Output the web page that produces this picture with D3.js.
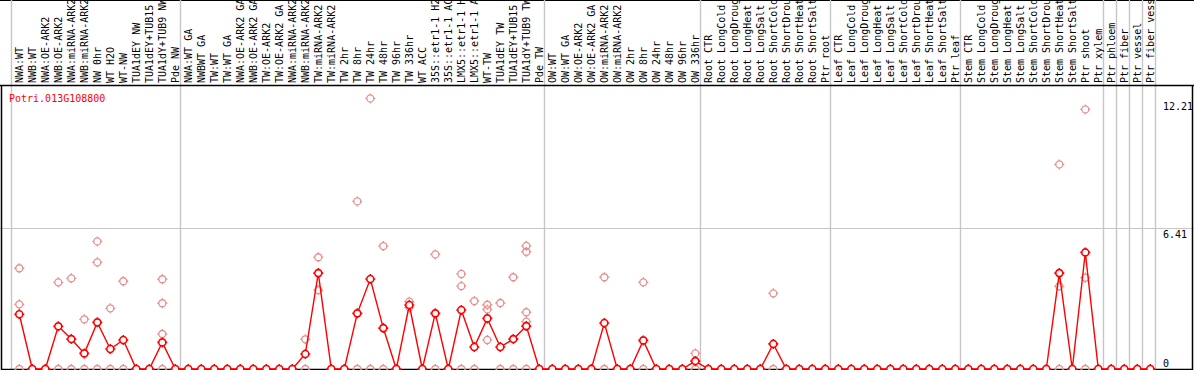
<!DOCTYPE html>
<html lang="en">
	<head>
		<meta charset="utf-8">
		<title>Potri.013G108800 expression</title>

		<script src="https://cdnjs.cloudflare.com/ajax/libs/d3/7.8.5/d3.min.js"></script>

		<style type="text/css">
			html, body {
				margin: 0;
				padding: 0;
				background: white;
			}

			#chart {
				display: block;
				overflow: hidden;
			}

			.sample-label, .tick-label, .gene-label {
				font-family: "DejaVu Sans Mono", monospace;
				font-size: 10px;
			}
		</style>
	</head>
	<body>

		<svg id="chart" width="1194" height="370"></svg>

		<script type="text/javascript">

			//---------------------------------------------
			// data
			//---------------------------------------------

			var gene = "Potri.013G108800";

			var samples = [
				"NWA:WT", "NWB:WT", "NWA:OE-ARK2", "NWB:OE-ARK2", "NWA:miRNA-ARK2", "NWB:miRNA-ARK2",
				"NW 0hr", "WT H2O", "WT-NW", "TUA1dEY NW", "TUA1dEY+TUB15", "TUA1dY+TUB9 NW", "Pde NW",
				"NWA:WT GA", "NWBWT GA", "TW:WT", "TW:WT GA", "NWA:OE-ARK2 GA", "NWB:OE-ARK2 GA",
				"TW:OE-ARK2", "TW:OE-ARK2 GA", "NWA:miRNA-ARK2", "NWB:miRNA-ARK2", "TW:miRNA-ARK2",
				"TW:miRNA-ARK2", "TW 2hr", "TW 8hr", "TW 24hr", "TW 48hr", "TW 96hr", "TW 336hr", "WT ACC",
				"35S::etr1-1 H2O", "35S::etr1-1 ACC", "LMX5::etr1-1 H2O", "LMX5::etr1-1 ACC", "WT-TW",
				"TUA1dEY TW", "TUA1dEY+TUB15", "TUA1dY+TUB9 TW", "Pde TW",
				"OW:WT", "OW:WT GA", "OW:OE-ARK2", "OW:OE-ARK2 GA", "OW:miRNA-ARK2", "OW:miRNA-ARK2",
				"OW 2hr", "OW 8hr", "OW 24hr", "OW 48hr", "OW 96hr", "OW 336hr",
				"Root CTR", "Root LongCold", "Root LongDrought", "Root LongHeat", "Root LongSalt",
				"Root ShortCold", "Root ShortDrought", "Root ShortHeat", "Root ShortSalt", "Ptr root",
				"Leaf CTR", "Leaf LongCold", "Leaf LongDrought", "Leaf LongHeat", "Leaf LongSalt",
				"Leaf ShortCold", "Leaf ShortDrought", "Leaf ShortHeat", "Leaf ShortSalt", "Ptr leaf",
				"Stem CTR", "Stem LongCold", "Stem LongDrought", "Stem LongHeat", "Stem LongSalt",
				"Stem ShortCold", "Stem ShortDrought", "Stem ShortHeat", "Stem ShortSalt", "Ptr shoot",
				"Ptr xylem", "Ptr phloem", "Ptr fiber", "Ptr vessel", "Ptr fiber vessel"
			];

			// mean expression per sample (red line)
			var means = [
				2.49, 0, 0, 1.94, 1.36, 0.71, 2.12, 0.91, 1.32, 0, 0, 1.21, 0,
				0, 0, 0, 0, 0, 0, 0, 0, 0, 0.68, 4.36, 0, 0, 2.53, 4.09, 1.86, 0, 2.91, 0,
				2.53, 0, 2.68, 1.0, 2.3, 1.0, 1.36, 1.95, 0,
				0, 0, 0, 0, 2.09, 0, 0, 1.3, 0, 0, 0, 0.36,
				0, 0, 0, 0, 0, 1.14, 0, 0, 0, 0,
				0, 0, 0, 0, 0, 0, 0, 0, 0, 0,
				0, 0, 0, 0, 0, 0, 0, 4.36, 0, 5.3, 0,
				0, 0, 0, 0
			];

			// single replicate values per sample (pink circles)
			var replicates = [
				[4.58, 2.94, 0], [0], [0], [3.94, 0], [4.12, 0], [2.26, 0], [5.8, 4.85, 0], [2.76, 0],
				[3.99, 0], [0], [0], [4.08, 2.99, 1.59, 0], [0],
				[0], [0], [0], [0], [0], [0], [0], [0], [0], [1.35, 0], [5.08, 3.59], [0], [0],
				[7.62, 0], [12.3, 0], [5.59, 0], [0], [3.06, 2.8], [0], [5.21, 0], [0],
				[4.32, 3.77, 0], [3.09, 0], [2.92, 2.71, 1.32], [3.0, 0], [4.17, 0],
				[5.6, 5.33, 2.58, 2.15, 0], [0],
				[0], [0], [0], [0], [4.17, 0], [0], [0], [3.94, 0], [0], [0], [0], [0.71, 0],
				[0], [0], [0], [0], [0], [3.44, 0], [0], [0], [0], [0],
				[0], [0], [0], [0], [0], [0], [0], [0], [0], [0],
				[0], [0], [0], [0], [0], [0], [0], [9.3, 3.76, 0], [0], [11.8, 4.15, 0], [0],
				[0], [0], [0], [0]
			];

			// first sample of each tissue group
			var group_starts = [0, 13, 41, 53, 63, 73, 84, 85, 86, 87, 88];

			var y_ticks = [0, 6.41, 12.21];
			var y_tick_labels = ["0", "6.41", "12.21"];


			//---------------------------------------------
			// scales
			//---------------------------------------------

			var width  = 1194;
			var height = 370;

			var col_w = 13;
			var plot_left = 12.8;
			var label_bottom = 85;
			var plot_bottom = 369;

			var x = d3.scaleBand()
				.domain(d3.range(samples.length))
				.range([plot_left, plot_left + samples.length * col_w]);

			function cx (i) { return x(i) + x.bandwidth() / 2; }

			var y = d3.scaleLinear()
				.domain([0, 6.41])
				.range([plot_bottom, 228]);

			var svg = d3.select("#chart");

			var grey = "#c6c6c6";
			var pink = "#e88e8e";


			//---------------------------------------------
			// frame, grid and group separators
			//---------------------------------------------

			svg.append("line")
				.attr("x1", 0).attr("x2", width)
				.attr("y1", 0.5).attr("y2", 0.5)
				.style("stroke", "black");

			svg.append("line")
				.attr("x1", 0).attr("x2", width)
				.attr("y1", y(6.41) + 0.5).attr("y2", y(6.41) + 0.5)
				.style("stroke", grey);

			svg.append("g").selectAll("line")
				.data(group_starts)
				.join("line")
				.attr("x1", function (d) { return Math.round(plot_left + d * col_w - 2) + 0.5; })
				.attr("x2", function (d) { return Math.round(plot_left + d * col_w - 2) + 0.5; })
				.attr("y1", 0)
				.attr("y2", plot_bottom)
				.style("stroke", grey)
				.style("stroke-width", 1.4);

			svg.append("line")
				.attr("x1", 0).attr("x2", width)
				.attr("y1", label_bottom + 0.5).attr("y2", label_bottom + 0.5)
				.style("stroke", "black")
				.style("stroke-width", 1.5);

			svg.append("path")
				.attr("d", "M1.5," + label_bottom + "V" + (plot_bottom + 0.5) + "H" + (width - 1.5) + "V" + label_bottom)
				.style("fill", "none")
				.style("stroke", "black")
				.style("stroke-width", 1.5);


			//---------------------------------------------
			// sample labels (rotated, the long ones run off the top like the original)
			//---------------------------------------------

			svg.append("g").selectAll("text")
				.data(samples)
				.join("text")
				.attr("class", "sample-label")
				.attr("transform", function (d, i) { return "translate(" + cx(i) + "," + (label_bottom - 2) + ") rotate(-90)"; })
				.attr("dy", "0.36em")
				.style("fill", "black")
				.text(function (d) { return d; });

			svg.append("text")
				.attr("class", "gene-label")
				.attr("x", 9)
				.attr("y", 101.5)
				.style("fill", "red")
				.text(gene);


			//---------------------------------------------
			// right axis
			//---------------------------------------------

			svg.append("g").selectAll("text")
				.data(y_ticks)
				.join("text")
				.attr("class", "tick-label")
				.attr("x", 1163)
				.attr("y", function (d) { return d === 0 ? y(d) - 2.5 : y(d) + 9.5; })
				.style("fill", "black")
				.text(function (d, i) { return y_tick_labels[i]; });


			//---------------------------------------------
			// markers: small circle with four little ticks
			//---------------------------------------------

			var marker = "M3.5,0A3.5,3.5 0 1,1 -3.5,0A3.5,3.5 0 1,1 3.5,0" +
				"M3.5,0H5M-3.5,0H-5M0,3.5V5M0,-3.5V-5";

			var reps = [];
			replicates.forEach(function (vals, i) {
				vals.forEach(function (v) { reps.push({ i: i, v: v }); });
			});

			svg.append("g").selectAll("path")
				.data(reps)
				.join("path")
				.attr("d", marker)
				.attr("transform", function (d) { return "translate(" + cx(d.i) + "," + y(d.v) + ")"; })
				.style("fill", "none")
				.style("stroke", pink)
				.style("stroke-width", 1.3);

			var line = d3.line()
				.x(function (d, i) { return cx(i); })
				.y(function (d) { return y(d); });

			svg.append("path")
				.datum(means)
				.attr("d", line)
				.style("fill", "none")
				.style("stroke", "red")
				.style("stroke-width", 1.4);

			svg.append("g").selectAll("path")
				.data(means)
				.join("path")
				.attr("d", marker)
				.attr("transform", function (d, i) { return "translate(" + cx(i) + "," + y(d) + ")"; })
				.style("fill", "white")
				.style("stroke", "red")
				.style("stroke-width", 1.6);

		</script>
	</body>
</html>
